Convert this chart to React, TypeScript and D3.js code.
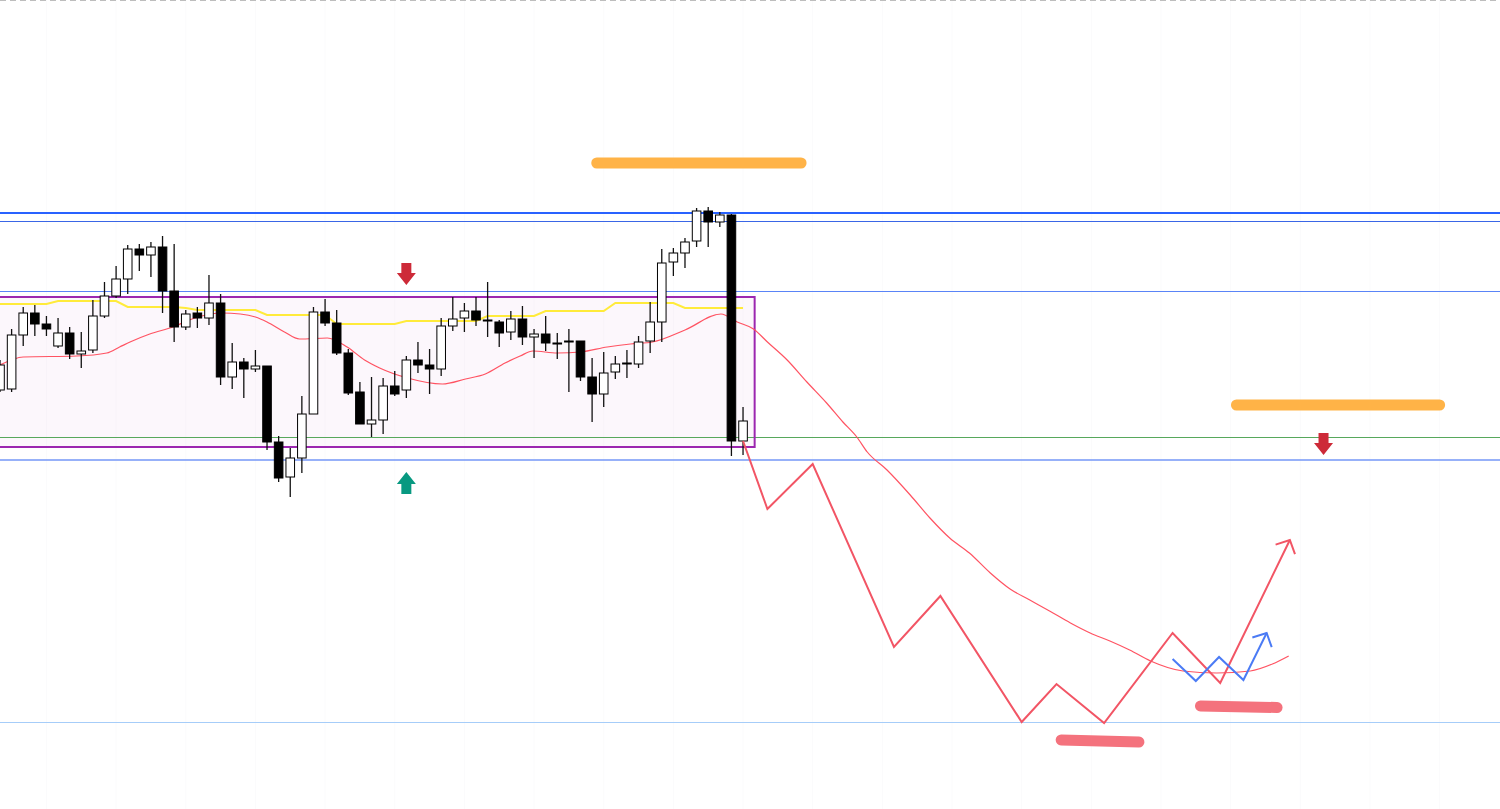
import React from "react";
import * as d3 from "d3";

// ---- Data (price units; higher = up) ----
const OPEN = [610,611,665,687,676,654,667,646,650,684,704,721,751,745,753,709,673,687,682,697,623,638,631,634,558,523,542,586,688,677,647,608,576,580,614,610,640,635,631,674,682,689,680,678,668,681,663,666,657,659,659,623,606,628,637,636,659,678,738,747,759,789,778,785,559];
const HIGH = [640,671,693,695,684,682,673,668,700,718,734,755,756,758,764,756,690,693,725,706,657,642,650,634,564,552,604,693,701,690,651,618,623,622,629,644,658,651,682,703,697,703,718,680,689,694,671,684,667,671,659,642,648,644,650,664,698,751,752,762,792,793,788,786,593];
const LOW = [608,608,654,664,664,652,641,632,647,682,702,706,729,723,687,658,670,672,675,615,611,602,628,550,518,503,527,586,674,645,605,576,563,566,604,602,627,606,624,669,668,674,663,653,660,655,642,649,641,608,619,578,593,621,622,632,647,658,724,732,753,753,773,544,545];
const CLOSE = [635,665,687,676,671,667,646,649,684,704,721,751,745,753,709,673,686,682,697,623,638,631,634,558,522,542,586,688,677,647,607,576,580,614,606,640,635,631,674,681,689,680,679,667,681,663,666,657,657,659,623,606,627,636,636,658,678,737,747,758,789,778,785,559,579];

// yellow channel line, one value per bar
const YELLOW = [696,696,696,696,696,699,699,699,699,699,699,693,693,693,693,693,692,690,690,690,690,690,690,685,685,685,685,685,685,676,676,676,676,676,676,679,679,679,679,679,679,679,684,684,684,684,684,689,689,689,689,689,689,697,697,697,697,697,697,692,692,692,692,692,692];

// moving average incl. projected part: [bar index, price]
const MA_LINE: [number, number][] = [[0,635],[2.0,643],[6.6,644],[9.2,647],[10.3,653],[11.2,658],[12.9,666],[14.9,673],[16.8,682],[19.1,687],[20.7,686],[22.0,683],[23.0,678],[24.5,668],[25.8,661],[28.2,662],[29.9,653],[31.4,640],[32.7,632],[35.1,622],[38.1,616],[40.1,621],[41.8,626],[43.5,637],[44.8,644],[45.9,649],[48.0,647],[50.0,648],[52.3,653],[54.3,656],[56.2,658],[59.0,670],[62.1,686],[63.5,678],[64.9,671],[66.1,658],[67.8,640],[69.5,618],[71.2,597],[72.6,578],[73.8,563],[74.7,548],[76.4,530],[78.4,505],[80.1,482],[81.8,462],[83.5,447],[85.3,427],[87.0,411],[88.7,400],[90.4,389],[92.2,377],[93.9,367],[95.6,359],[97.3,350],[99.1,339],[101.9,329],[104.8,327],[107.7,329],[109.6,336],[111.0,344]];

// projected scenarios
const RED_PATH: [number, number][] = [[64,559],[66.1,491],[70,536],[77,353],[81,404],[88,278],[91,316],[95.1,277],[101,367],[105.1,317],[111.1,460]];
const BLUE_PATH: [number, number][] = [[101,341],[103,319],[105,343],[107.1,320],[109.1,367]];

// horizontal levels
const LEVEL_MAIN = 787;
const LEVEL_THIN = 778.5;
const LEVEL_UPPER = 708.5;
const LEVEL_GREEN = 562.5;
const LEVEL_LOWER = 540;
const LEVEL_BOTTOM = 277.5;
const RANGE_BOX = { t0: -2, t1: 65, top: 703, bottom: 553 };

// highlight marks: [t0, p0, t1, p1]
const ORANGE_MARKS: [number, number, number, number][] = [[51.4,837,69.0,837],[106.5,595,124.0,595]];
const PINK_MARKS: [number, number, number, number][] = [[91.4,260,98.1,258],[103.4,294,110.0,292.5]];
const DOWN_ARROWS: [number, number][] = [[35.0,715],[114.0,545]];
const UP_ARROWS: [number, number][] = [[35.0,528]];

const W = 1500, H = 809;

export default function App() {
  const x = d3.scaleLinear().domain([0, 129.2]).range([0, W]);
  const y = d3.scaleLinear().domain([191, 1000]).range([H, 0]);
  const step = x(1) - x(0);
  const bw = step * 0.74;

  const lineGen = d3.line<[number, number]>().x(d => x(d[0])).y(d => y(d[1]));
  const maGen = d3.line<[number, number]>().x(d => x(d[0])).y(d => y(d[1])).curve(d3.curveMonotoneX);
  const yellowData: [number, number][] = YELLOW.map((v, i) => [i, v]);

  const arrowHead = (path: [number, number][]) => {
    const a = path[path.length - 2], b = path[path.length - 1];
    const bx = x(b[0]), by = y(b[1]);
    const ang = Math.atan2(y(a[1]) - by, x(a[0]) - bx);
    const L = 15, sp = (46 * Math.PI) / 180;
    return `M${bx + L * Math.cos(ang + sp)},${by + L * Math.sin(ang + sp)}L${bx},${by}L${bx + L * Math.cos(ang - sp)},${by + L * Math.sin(ang - sp)}`;
  };

  const levels = [
    { v: LEVEL_MAIN, c: "#2962ff", w: 2 },
    { v: LEVEL_THIN, c: "#3a66e6", w: 1 },
    { v: LEVEL_UPPER, c: "#5a84f7", w: 1 },
    { v: LEVEL_GREEN, c: "#57a85c", w: 1 },
    { v: LEVEL_LOWER, c: "#7597f7", w: 1.6 },
    { v: LEVEL_BOTTOM, c: "#a6cdf9", w: 1 },
  ];

  const gridBars = d3.range(4, 130, 6);

  return (
    <svg width={W} height={H} style={{ position: "absolute", left: 0, top: 0, background: "#fff" }}>
      {gridBars.map(i => (
        <line key={"g" + i} x1={x(i)} x2={x(i)} y1={0} y2={H} stroke="#fbfbfc" strokeWidth={1} />
      ))}
      <line x1={0} x2={W} y1={0.5} y2={0.5} stroke="#bdbdbd" strokeWidth={1} strokeDasharray="6 4" />
      <rect
        x={x(RANGE_BOX.t0)}
        y={y(RANGE_BOX.top)}
        width={x(RANGE_BOX.t1) - x(RANGE_BOX.t0)}
        height={y(RANGE_BOX.bottom) - y(RANGE_BOX.top)}
        fill="#9c27b0"
        fillOpacity={0.035}
        stroke="none"
      />
      {levels.map((l, i) => (
        <line key={"l" + i} x1={0} x2={W} y1={y(l.v)} y2={y(l.v)} stroke={l.c} strokeWidth={l.w} />
      ))}
      <rect
        x={x(RANGE_BOX.t0)}
        y={y(RANGE_BOX.top)}
        width={x(RANGE_BOX.t1) - x(RANGE_BOX.t0)}
        height={y(RANGE_BOX.bottom) - y(RANGE_BOX.top)}
        fill="none"
        stroke="#9c27b0"
        strokeWidth={2}
      />
      <path d={lineGen(yellowData) || ""} fill="none" stroke="#ffeb3b" strokeWidth={2} />
      <path d={maGen(MA_LINE) || ""} fill="none" stroke="#ff4a5a" strokeOpacity={0.95} strokeWidth={1.2} />
      {OPEN.map((o, i) => {
        const c = CLOSE[i];
        const up = c > o;
        const top = y(Math.max(o, c));
        const bot = y(Math.min(o, c));
        const cx = x(i);
        return (
          <g key={"c" + i}>
            <line x1={cx} x2={cx} y1={y(HIGH[i])} y2={y(LOW[i])} stroke="#111" strokeWidth={1.3} />
            <rect
              x={cx - bw / 2}
              y={top}
              width={bw}
              height={Math.max(bot - top, 1)}
              fill={up ? "#ffffff" : "#000000"}
              stroke="#000"
              strokeWidth={1}
            />
          </g>
        );
      })}
      <path d={lineGen(RED_PATH) || ""} fill="none" stroke="#f25565" strokeWidth={2} strokeLinejoin="miter" />
      <path d={arrowHead(RED_PATH)} fill="none" stroke="#f25565" strokeWidth={2} />
      <path d={lineGen(BLUE_PATH) || ""} fill="none" stroke="#4b7bf5" strokeWidth={2} />
      <path d={arrowHead(BLUE_PATH)} fill="none" stroke="#4b7bf5" strokeWidth={2} />
      {ORANGE_MARKS.map((m, i) => (
        <line key={"o" + i} x1={x(m[0])} y1={y(m[1])} x2={x(m[2])} y2={y(m[3])} stroke="#ffb347" strokeWidth={11} strokeLinecap="round" />
      ))}
      {PINK_MARKS.map((m, i) => (
        <line key={"p" + i} x1={x(m[0])} y1={y(m[1])} x2={x(m[2])} y2={y(m[3])} stroke="#f4727d" strokeWidth={11} strokeLinecap="round" />
      ))}
      {DOWN_ARROWS.map((a, i) => {
        const cx = x(a[0]), ty = y(a[1]);
        return (
          <path key={"d" + i} fill="#cd2a38"
            d={`M${cx - 5},${ty - 22}L${cx + 5},${ty - 22}L${cx + 5},${ty - 12}L${cx + 9.5},${ty - 12}L${cx},${ty}L${cx - 9.5},${ty - 12}L${cx - 5},${ty - 12}Z`} />
        );
      })}
      {UP_ARROWS.map((a, i) => {
        const cx = x(a[0]), ty = y(a[1]);
        return (
          <path key={"u" + i} fill="#089981"
            d={`M${cx - 5},${ty + 22}L${cx + 5},${ty + 22}L${cx + 5},${ty + 12}L${cx + 9.5},${ty + 12}L${cx},${ty}L${cx - 9.5},${ty + 12}L${cx - 5},${ty + 12}Z`} />
        );
      })}
    </svg>
  );
}
